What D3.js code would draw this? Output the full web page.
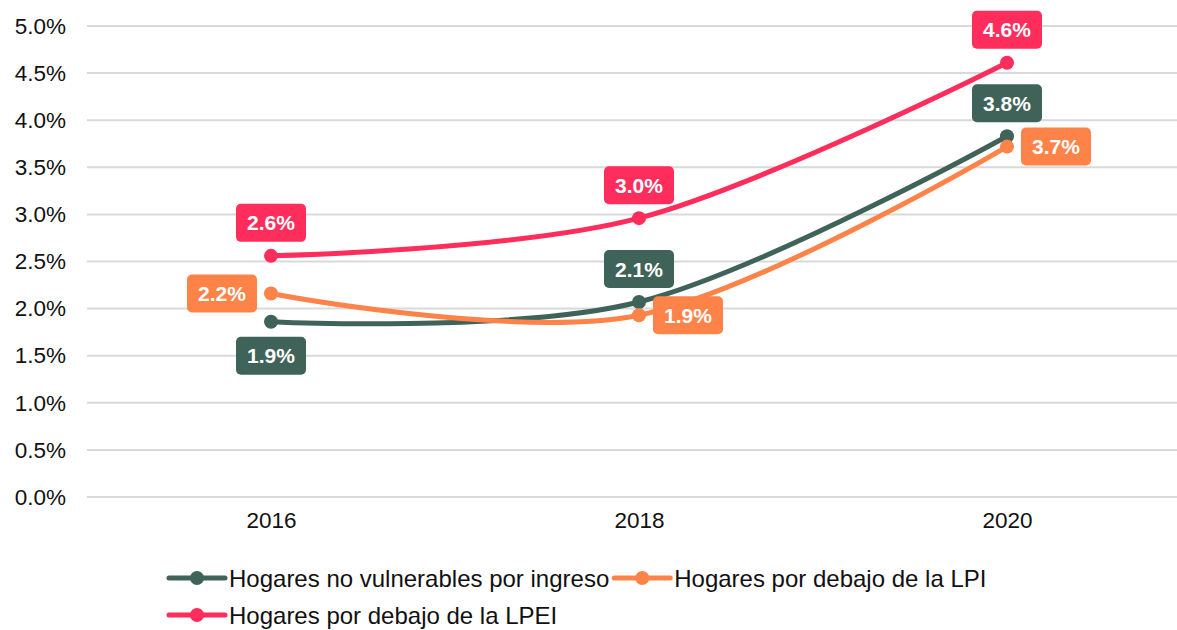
<!DOCTYPE html>
<html>
<head>
<meta charset="utf-8">
<script src="https://cdn.jsdelivr.net/npm/d3@7"></script>
<style>
  body { margin: 0; background: #fff; }
  svg { display: block; font-family: "Liberation Sans", Arial, sans-serif; }
</style>
</head>
<body>
<svg id="chart" width="1177" height="630"></svg>
<script>
// data
const years = ['2016', '2018', '2020'];
const seriesNames = ['Hogares no vulnerables por ingreso', 'Hogares por debajo de la LPI', 'Hogares por debajo de la LPEI'];
const noVulnerables = [0.0186, 0.0207, 0.0383];
const debajoLPI = [0.0216, 0.0193, 0.0372];
const debajoLPEI = [0.0256, 0.0296, 0.0461];
const yTicks = [0, 0.005, 0.01, 0.015, 0.02, 0.025, 0.03, 0.035, 0.04, 0.045, 0.05];

const colors = ['#3f6359', '#fd8349', '#ff2d5c'];
// where each data label sits relative to its point
const labelPos = [
    ['below', 'above', 'above'],
    ['left', 'right', 'right'],
    ['above', 'above', 'above']
];

const allSeries = [noVulnerables, debajoLPI, debajoLPEI];

const svg = d3.select('#chart');

const x = d3.scalePoint()
    .domain(years)
    .range([87, 1191])
    .padding(0.5);

const y = d3.scaleLinear()
    .domain([0, 0.05])
    .range([497, 26]);

const fmt = d3.format('.1%');

// gridlines
svg.append('g')
    .selectAll('line')
    .data(yTicks)
    .enter().append('line')
    .attr('x1', 87)
    .attr('x2', 1177)
    .attr('y1', d => y(d))
    .attr('y2', d => y(d))
    .style('stroke', '#d9d9d9')
    .style('stroke-width', 2);

// y axis labels
const yAxis = svg.append('g')
    .attr('transform', 'translate(66,0)')
    .call(d3.axisLeft(y).tickValues(yTicks).tickFormat(fmt).tickSize(0).tickPadding(0));
yAxis.select('.domain').remove();
yAxis.selectAll('text')
    .style('font-size', '22.5px')
    .style('fill', '#111')
    .style('font-family', '"Liberation Sans", Arial, sans-serif');

// x axis labels
const xAxis = svg.append('g')
    .attr('transform', 'translate(0,512)')
    .call(d3.axisBottom(x).tickSize(0).tickPadding(0));
xAxis.select('.domain').remove();
xAxis.selectAll('text')
    .style('font-size', '22.5px')
    .style('fill', '#111')
    .style('font-family', '"Liberation Sans", Arial, sans-serif');

// lines
const line = d3.line()
    .x((d, i) => x(years[i]))
    .y(d => y(d))
    .curve(d3.curveCardinal.tension(0));

allSeries.forEach((vals, s) => {
    svg.append('path')
        .datum(vals)
        .attr('d', line)
        .style('fill', 'none')
        .style('stroke', colors[s])
        .style('stroke-width', 5)
        .style('stroke-linecap', 'round');

    svg.append('g')
        .selectAll('circle')
        .data(vals)
        .enter().append('circle')
        .attr('cx', (d, i) => x(years[i]))
        .attr('cy', d => y(d))
        .attr('r', 7)
        .style('fill', colors[s]);
});

// data labels
const boxW = 70, boxH = 38;
allSeries.forEach((vals, s) => {
    const g = svg.append('g')
        .selectAll('g')
        .data(vals)
        .enter().append('g')
        .attr('transform', (d, i) => {
            let cx = x(years[i]), cy = y(d);
            const pos = labelPos[s][i];
            if (pos === 'above') cy -= 33;
            if (pos === 'below') cy += 34;
            if (pos === 'left') cx -= 49;
            if (pos === 'right') cx += 49;
            return `translate(${cx},${cy})`;
        });

    g.append('rect')
        .attr('x', -boxW / 2)
        .attr('y', -boxH / 2)
        .attr('width', boxW)
        .attr('height', boxH)
        .attr('rx', 5)
        .style('fill', colors[s]);

    g.append('text')
        .attr('dy', '0.36em')
        .style('text-anchor', 'middle')
        .style('fill', '#fff')
        .style('font-weight', 'bold')
        .style('font-size', '21px')
        .text(d => fmt(d));
});

// legend
const legendRows = [[0, 1], [2]];
const rowY = [578, 615];
legendRows.forEach((row, r) => {
    let lx = 169;
    row.forEach(s => {
        const item = svg.append('g').attr('transform', `translate(${lx},${rowY[r]})`);
        item.append('line')
            .attr('x1', 0).attr('x2', 56)
            .attr('y1', 0).attr('y2', 0)
            .style('stroke', colors[s])
            .style('stroke-width', 5)
            .style('stroke-linecap', 'round');
        item.append('circle')
            .attr('cx', 28).attr('cy', 0).attr('r', 7)
            .style('fill', colors[s]);
        const t = item.append('text')
            .attr('x', 60)
            .attr('dy', '0.36em')
            .style('font-size', '24px')
            .style('fill', '#111')
            .text(seriesNames[s]);
        lx += 60 + t.node().getComputedTextLength() + 5;
    });
});
</script>
</body>
</html>
